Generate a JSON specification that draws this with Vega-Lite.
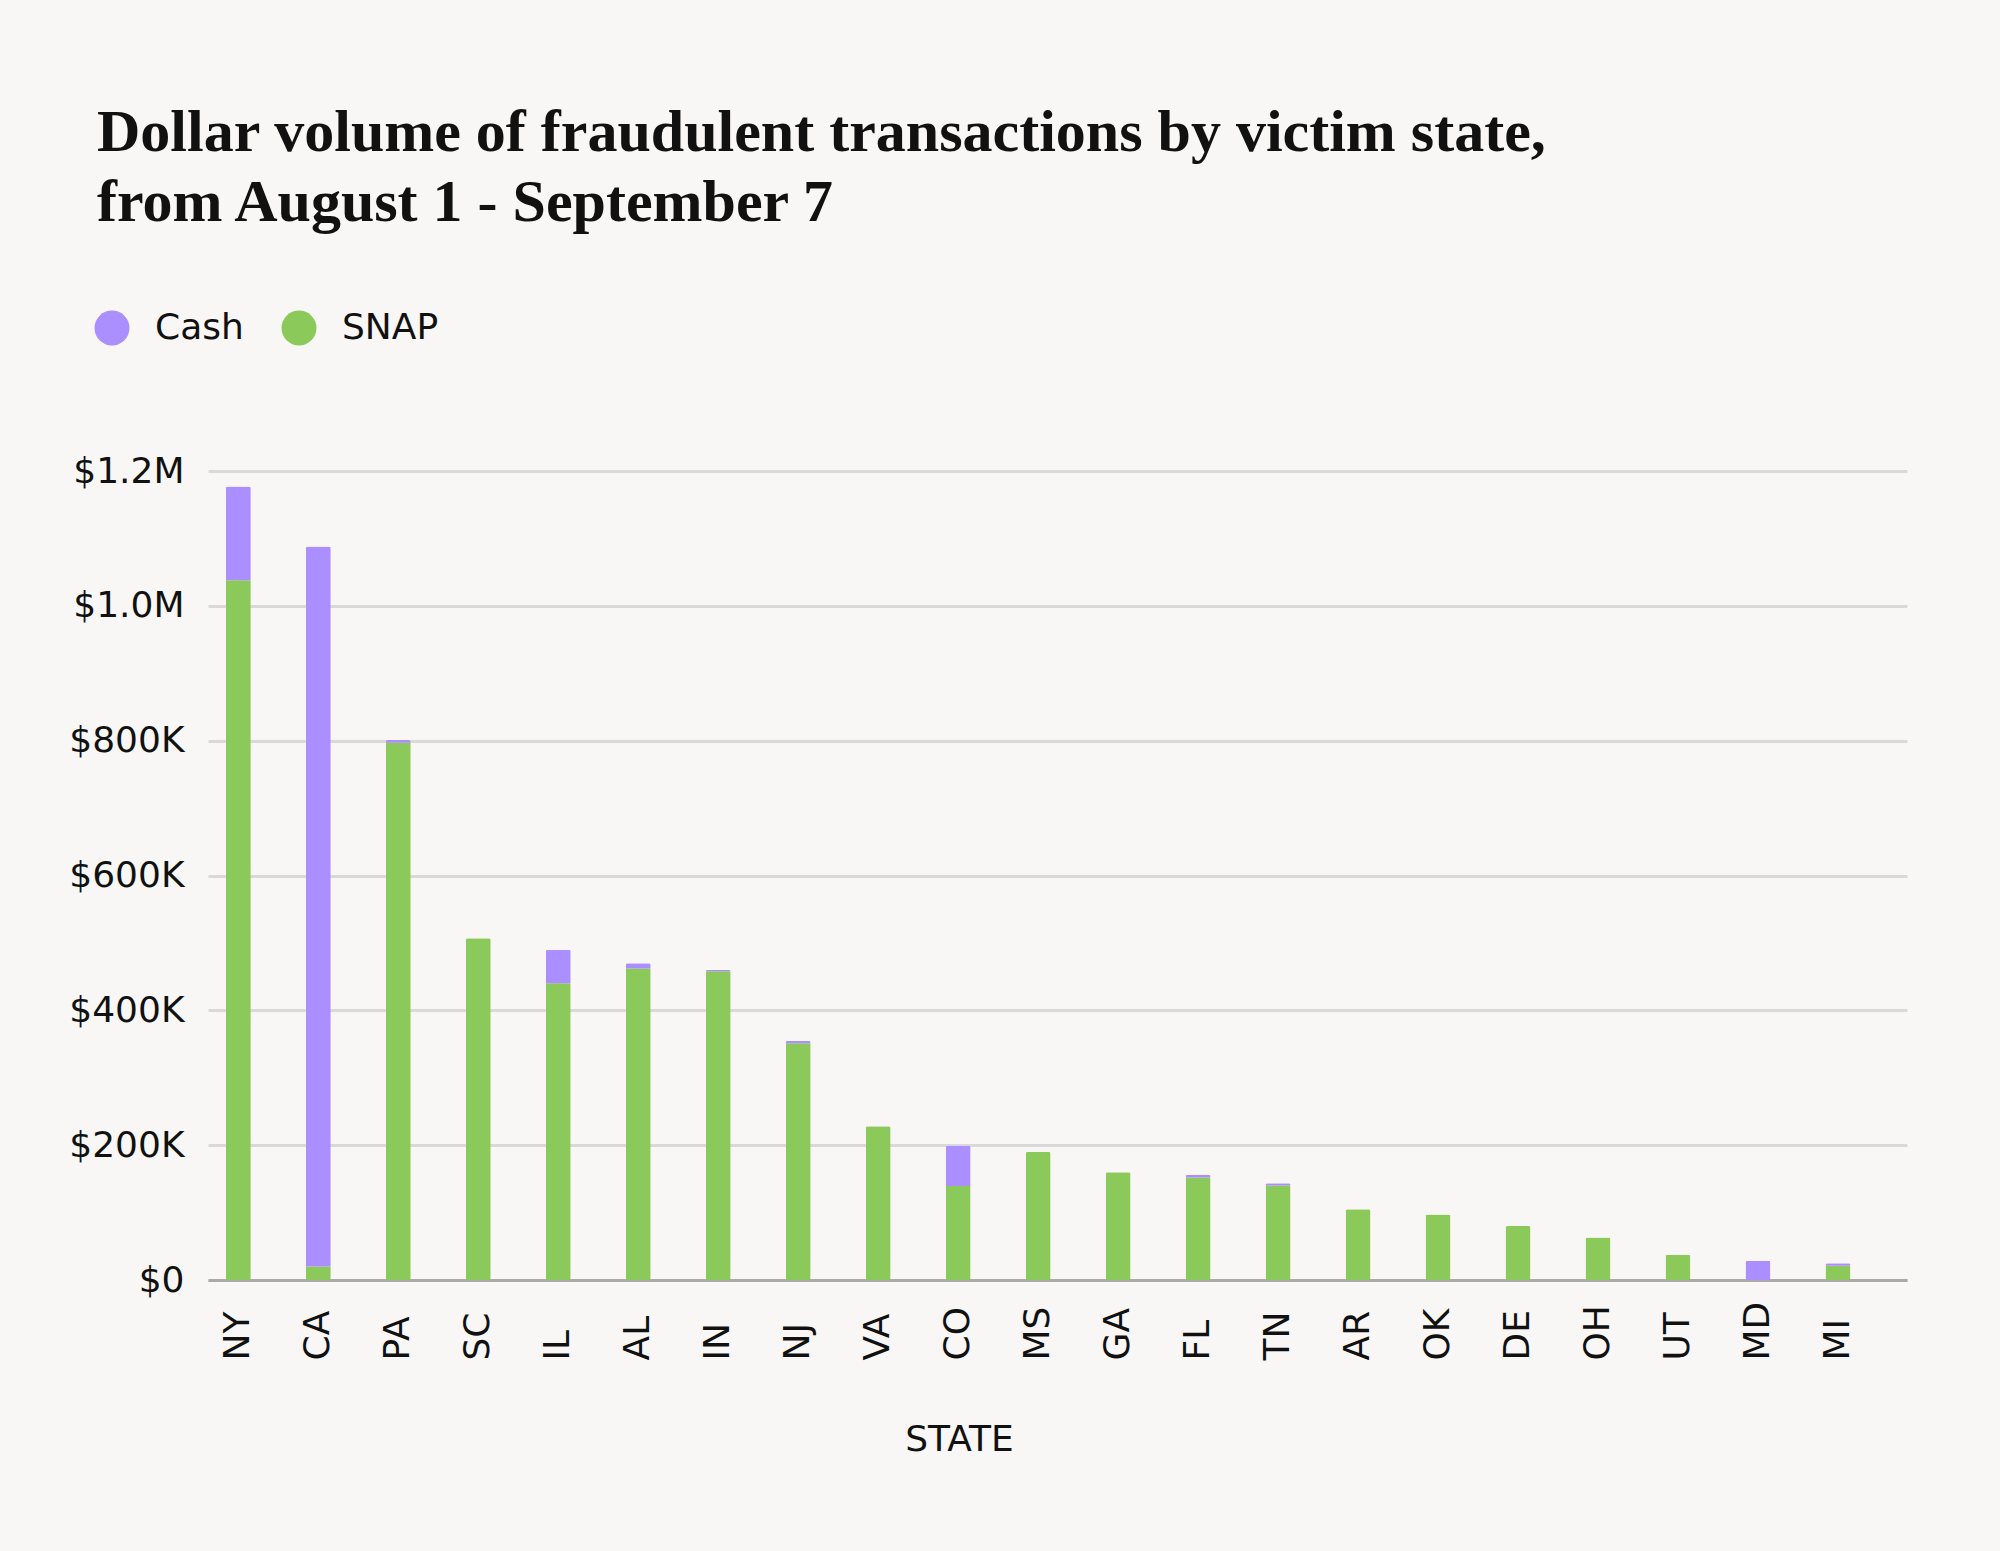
{
  "$schema": "https://vega.github.io/schema/vega-lite/v6.json",
  "autosize": "none",
  "width": 1699,
  "height": 809,
  "padding": {"left": 208, "top": 471, "right": 93, "bottom": 271},
  "background": "#f8f7f5",
  "title": {
    "text": ["Dollar volume of fraudulent transactions by victim state,", "from August 1 - September 7"],
    "anchor": "start",
    "frame": "group",
    "font": "Liberation Serif",
    "fontWeight": "bold",
    "fontSize": 60,
    "lineHeight": 70,
    "color": "#111111",
    "dx": -111,
    "dy": 223,
    "offset": 252,
    "baseline": "alphabetic"
  },
  "data": {
    "values": [
      {"state": "NY", "type": "SNAP", "amount": 1038000},
      {"state": "NY", "type": "Cash", "amount": 139000},
      {"state": "CA", "type": "SNAP", "amount": 20000},
      {"state": "CA", "type": "Cash", "amount": 1068000},
      {"state": "PA", "type": "SNAP", "amount": 797000},
      {"state": "PA", "type": "Cash", "amount": 4000},
      {"state": "SC", "type": "SNAP", "amount": 507000},
      {"state": "SC", "type": "Cash", "amount": 0},
      {"state": "IL", "type": "SNAP", "amount": 440000},
      {"state": "IL", "type": "Cash", "amount": 50000},
      {"state": "AL", "type": "SNAP", "amount": 462000},
      {"state": "AL", "type": "Cash", "amount": 8000},
      {"state": "IN", "type": "SNAP", "amount": 458000},
      {"state": "IN", "type": "Cash", "amount": 2000},
      {"state": "NJ", "type": "SNAP", "amount": 351000},
      {"state": "NJ", "type": "Cash", "amount": 4000},
      {"state": "VA", "type": "SNAP", "amount": 228000},
      {"state": "VA", "type": "Cash", "amount": 0},
      {"state": "CO", "type": "SNAP", "amount": 139500},
      {"state": "CO", "type": "Cash", "amount": 59500},
      {"state": "MS", "type": "SNAP", "amount": 190000},
      {"state": "MS", "type": "Cash", "amount": 0},
      {"state": "GA", "type": "SNAP", "amount": 160000},
      {"state": "GA", "type": "Cash", "amount": 0},
      {"state": "FL", "type": "SNAP", "amount": 152000},
      {"state": "FL", "type": "Cash", "amount": 4000},
      {"state": "TN", "type": "SNAP", "amount": 140000},
      {"state": "TN", "type": "Cash", "amount": 3500},
      {"state": "AR", "type": "SNAP", "amount": 105000},
      {"state": "AR", "type": "Cash", "amount": 0},
      {"state": "OK", "type": "SNAP", "amount": 97000},
      {"state": "OK", "type": "Cash", "amount": 0},
      {"state": "DE", "type": "SNAP", "amount": 80000},
      {"state": "DE", "type": "Cash", "amount": 0},
      {"state": "OH", "type": "SNAP", "amount": 63000},
      {"state": "OH", "type": "Cash", "amount": 0},
      {"state": "UT", "type": "SNAP", "amount": 37600},
      {"state": "UT", "type": "Cash", "amount": 0},
      {"state": "MD", "type": "SNAP", "amount": 0},
      {"state": "MD", "type": "Cash", "amount": 28700},
      {"state": "MI", "type": "SNAP", "amount": 21000},
      {"state": "MI", "type": "Cash", "amount": 3800}
    ]
  },
  "mark": {"type": "bar", "cornerRadius": 2},
  "encoding": {
    "x": {
      "field": "state",
      "type": "nominal",
      "sort": ["NY","CA","PA","SC","IL","AL","IN","NJ","VA","CO","MS","GA","FL","TN","AR","OK","DE","OH","UT","MD","MI"],
      "scale": {"paddingInner": 0.6875, "paddingOuter": 0.465, "align": 0.24},
      "axis": {
        "title": "STATE",
        "titleFont": "DejaVu Sans",
        "titleFontSize": 36,
        "titleFontWeight": "normal",
        "titleColor": "#111111",
        "titleX": 751,
        "titleY": 170,
        "titleBaseline": "alphabetic",
        "labelAngle": 270,
        "labelAlign": "left",
        "labelBaseline": "middle",
        "labelPadding": 80,
        "labelFont": "DejaVu Sans",
        "labelFontSize": 36,
        "labelColor": "#111111",
        "ticks": false,
        "domainColor": "#aaaaaa",
        "domainWidth": 3,
        "grid": false
      }
    },
    "y": {
      "field": "amount",
      "type": "quantitative",
      "aggregate": "sum",
      "stack": "zero",
      "scale": {"domain": [0, 1200000], "nice": false},
      "axis": {
        "title": null,
        "values": [0, 200000, 400000, 600000, 800000, 1000000, 1200000],
        "labelExpr": "datum.value == 0 ? '$0' : (datum.value >= 1000000 ? '$' + format(datum.value / 1000000, '.1f') + 'M' : '$' + format(datum.value / 1000, 'd') + 'K')",
        "labelFont": "DejaVu Sans",
        "labelFontSize": 36,
        "labelColor": "#111111",
        "labelPadding": 24,
        "ticks": false,
        "domain": false,
        "gridColor": "#d9d9d9",
        "gridWidth": 3
      }
    },
    "color": {
      "field": "type",
      "type": "nominal",
      "scale": {"domain": ["Cash", "SNAP"], "range": ["#ab8eff", "#8bc95a"]},
      "legend": {
        "title": null,
        "orient": "none",
        "legendX": -114,
        "legendY": -161,
        "direction": "horizontal",
        "symbolType": "circle",
        "symbolSize": 1225,
        "symbolStrokeWidth": 0,
        "labelFont": "DejaVu Sans",
        "labelFontSize": 36,
        "labelColor": "#111111",
        "labelOffset": 25,
        "columnPadding": 37
      }
    },
    "order": {"field": "type", "sort": "descending"}
  },
  "config": {
    "view": {"stroke": null}
  }
}
